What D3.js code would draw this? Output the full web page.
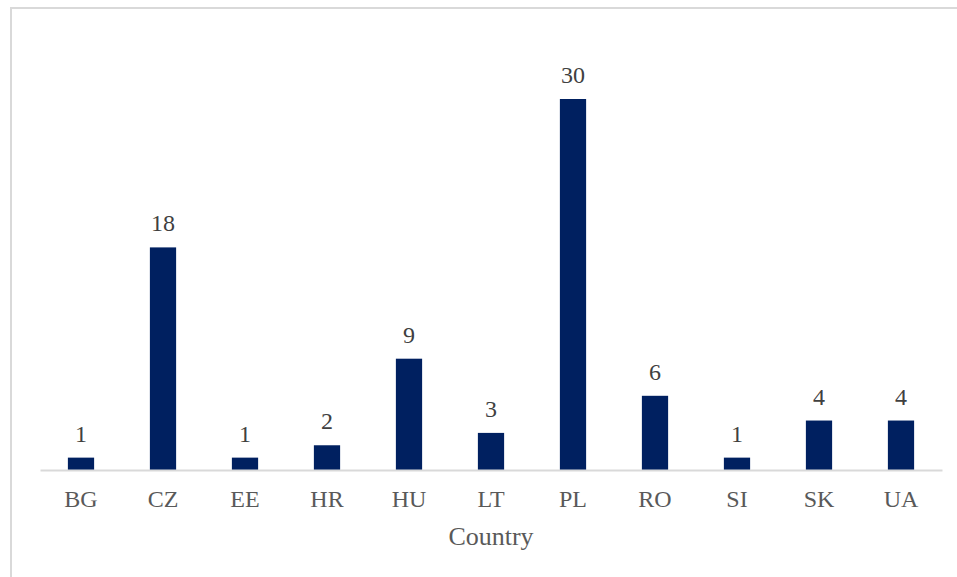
<!DOCTYPE html>
<html lang="en">
<head>
<meta charset="utf-8">
<script src="https://d3js.org/d3.v7.min.js"></script>
<style>
  body { margin: 0; background: #fff; }
  svg { display: block; }
</style>
</head>
<body>
<svg id="chart" width="957" height="577"></svg>
<script>
// Data
const countries = ["BG", "CZ", "EE", "HR", "HU", "LT", "PL", "RO", "SI", "SK", "UA"];
const counts = [1, 18, 1, 2, 9, 3, 30, 6, 1, 4, 4];

const svg = d3.select("#chart");
const font = "'Liberation Serif', 'Times New Roman', serif";

// outer frame (runs off the right and bottom edge)
svg.append("rect")
    .attr("x", 11).attr("y", 8)
    .attr("width", 960).attr("height", 600)
    .attr("fill", "none")
    .attr("stroke", "#d9d9d9")
    .attr("stroke-width", 2);

const x = d3.scaleBand()
    .domain(countries)
    .range([40, 942])
    .paddingInner(0.68)
    .paddingOuter(0.34);

const y = d3.scaleLinear()
    .domain([0, 30])
    .range([470, 99]);

const data = countries.map((c, i) => ({ country: c, value: counts[i] }));

// bars
svg.selectAll(".bar")
  .data(data)
  .join("rect")
    .attr("class", "bar")
    .attr("x", d => x(d.country))
    .attr("y", d => y(d.value))
    .attr("width", x.bandwidth())
    .attr("height", d => y(0) - y(d.value))
    .attr("fill", "#002060");

// value labels
svg.selectAll(".val")
  .data(data)
  .join("text")
    .attr("class", "val")
    .attr("x", d => x(d.country) + x.bandwidth() / 2)
    .attr("y", d => y(d.value) - 16)
    .attr("text-anchor", "middle")
    .style("font-family", font)
    .style("font-size", "24px")
    .style("fill", "#404040")
    .text(d => d.value);

// x axis
const axis = svg.append("g")
    .attr("transform", `translate(0,${y(0)})`)
    .call(d3.axisBottom(x).tickSize(0).tickPadding(0));
axis.select(".domain").attr("stroke", "#d9d9d9").attr("stroke-width", 2);
axis.selectAll("text")
    .attr("dy", 0)
    .attr("y", 37)
    .style("font-family", font)
    .style("font-size", "24px")
    .style("fill", "#595959");

// axis title
svg.append("text")
    .attr("x", 491)
    .attr("y", 545)
    .attr("text-anchor", "middle")
    .style("font-family", font)
    .style("font-size", "26px")
    .style("fill", "#595959")
    .text("Country");
</script>
</body>
</html>
